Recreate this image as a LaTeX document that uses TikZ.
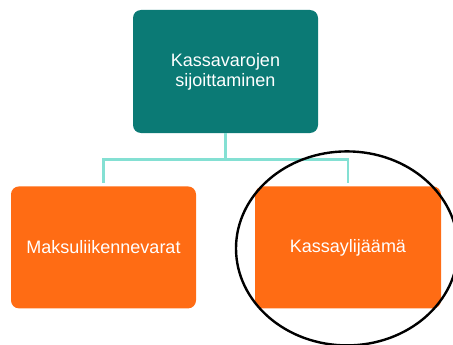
\documentclass[tikz,border=0pt]{standalone}
\usepackage{fontspec}
\setmainfont{Liberation Sans}
\usetikzlibrary{positioning}
\definecolor{tealbox}{HTML}{0B7A75}
\definecolor{orangebox}{HTML}{FF6C14}
\definecolor{linkline}{HTML}{84E0D3}
\tikzset{
  box/.style={rectangle, rounded corners=8pt, minimum width=185pt, minimum height=122pt,
    text=white, align=center, font=\fontsize{18}{20}\selectfont, inner sep=0pt},
  link/.style={draw=linkline, line width=2.6pt},
  ring/.style={draw=black, line width=2.4pt}
}
\begin{document}
\begin{tikzpicture}[x=1pt, y=-1pt]
    \useasboundingbox (0,0) rectangle (453,345);
    % Nodes
    \node (top) [box, fill=tealbox, minimum height=123pt] at (225.5,71.5) {Kassavarojen\\sijoittaminen};
    \node (left) [box, fill=orangebox, below=53pt of top, xshift=-122pt] {Maksuliikennevarat};
    \node (right) [box, fill=orangebox, below=53pt of top, xshift=122.5pt, minimum width=186pt] {Kassaylijäämä};

    % Connectors
    \draw[link] (top.south) -- ++(0,26) coordinate (fork);
    \draw[link] (fork) -| ([yshift=3pt]left.north);
    \draw[link] (fork) -| ([yshift=3pt]right.north);

    % Ring
    \draw[ring] ([xshift=-1pt, yshift=-1pt]right.center) ellipse [x radius=111pt, y radius=97pt];
\end{tikzpicture}
\end{document}
